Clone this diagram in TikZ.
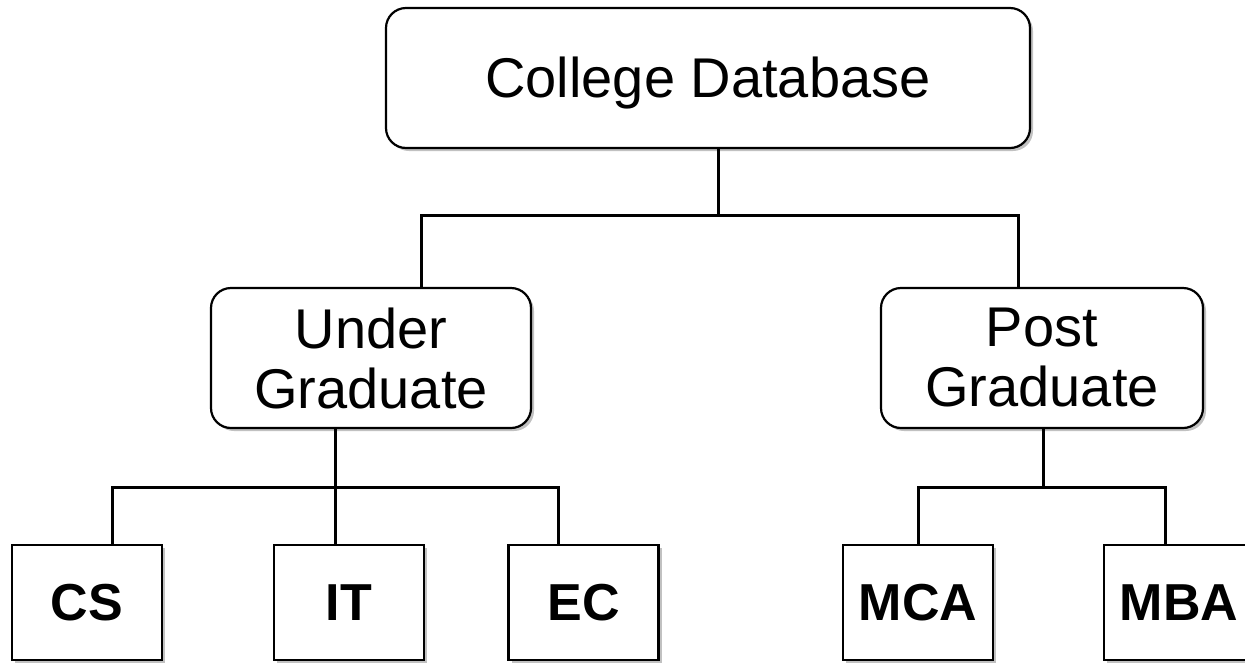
\documentclass[tikz,border=0pt]{standalone}
\usepackage{fontspec}
\setmainfont{Liberation Sans}
\usetikzlibrary{shadows}
\begin{document}
\begin{tikzpicture}[x=1pt,y=-1pt,
  boxshadow/.style={drop shadow={shadow xshift=3pt,shadow yshift=-3pt,opacity=0.35,fill=black!70}},
  roundbox/.style={draw=black,line width=2.2pt,fill=white,rounded corners=20pt,
    align=center,inner sep=0pt,font=\fontsize{56}{60}\selectfont,boxshadow},
  leafbox/.style={draw=black,line width=2.2pt,fill=white,inner sep=0pt,
    minimum width=150pt,minimum height=115pt,font=\fontsize{52}{60}\selectfont\bfseries,boxshadow},
  conn/.style={draw=black,line width=3pt}]
\useasboundingbox (0,0) rectangle (1245,665);

% top level
\node[roundbox,minimum width=644pt,minimum height=140pt] (top) at (708,78)
  {\raisebox{-5pt}[\height][\depth]{College Database}};

% second level
\node[roundbox,minimum width=320pt,minimum height=140pt] (ug) at (371,358) {Under\\Graduate};
\node[roundbox,minimum width=322pt,minimum height=140pt] (pg) at (1042,358) {Post\\Graduate};

% leaves
\node[leafbox] (cs)  at (87,602.5)   {CS};
\node[leafbox] (it)  at (349,602.5)  {IT};
\node[leafbox] (ec)  at (583.5,602.5) {EC};
\node[leafbox] (mca) at (918,602.5)  {MCA};
\node[leafbox] (mba) at (1179,602.5) {MBA};

% bus junctions
\coordinate (tJ) at (718,215);
\coordinate (uJ) at (421,215);
\coordinate (pJ) at (1018,215);
\coordinate (ugJ) at (335,487);
\coordinate (csJ) at (112,487);
\coordinate (ecJ) at (558,487);
\coordinate (pgJ) at (1043,487);
\coordinate (mcaJ) at (918,487);
\coordinate (mbaJ) at (1165,487);

% connectors from the top box
\draw[conn] (top.south -| tJ) -- (tJ);
\draw[conn] (ug.north -| uJ) -- (uJ) -- (pJ) -- (pg.north -| pJ);

% connectors from Under Graduate
\draw[conn] (ug.south -| ugJ) -- (ugJ);
\draw[conn] (cs.north -| csJ) -- (csJ) -- (ecJ) -- (ec.north -| ecJ);
\draw[conn] (ugJ) -- (it.north -| ugJ);

% connectors from Post Graduate
\draw[conn] (pg.south -| pgJ) -- (pgJ);
\draw[conn] (mca.north -| mcaJ) -- (mcaJ) -- (mbaJ) -- (mba.north -| mbaJ);
\end{tikzpicture}
\end{document}
